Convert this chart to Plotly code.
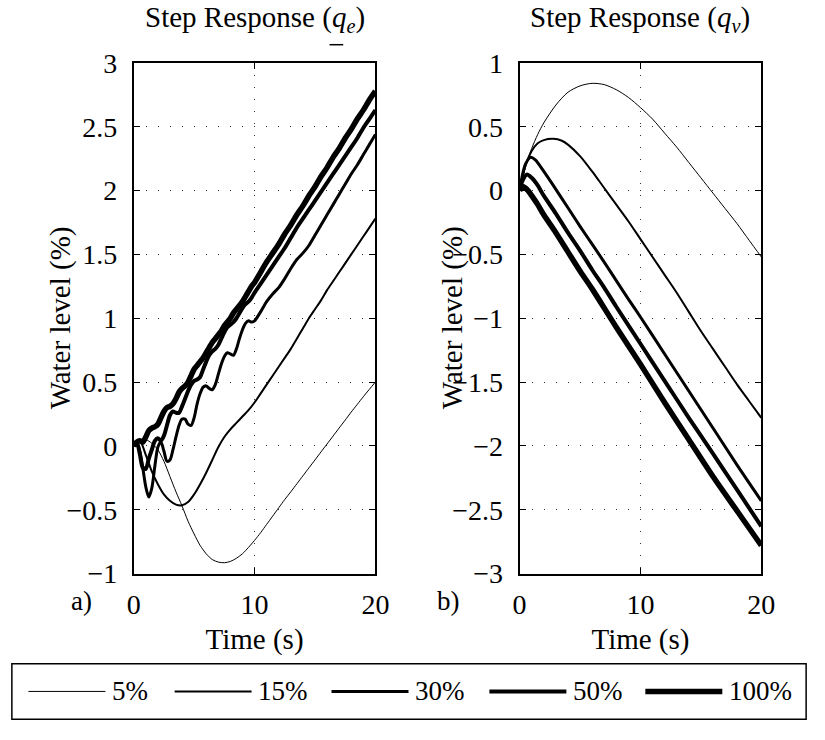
import plotly.graph_objects as go

# ---------------------------------------------------------------------------
# Data: step responses of the water level for five load levels
# ---------------------------------------------------------------------------
loads = ["5%", "15%", "30%", "50%", "100%"]
line_widths = [1.0, 2.0, 3.0, 4.0, 5.5]

# fine grid (0 .. 10 s every 0.25 s, then every 0.5 s up to 20 s)
t_fine = [round(0.25 * i, 2) for i in range(41)] + [10.5 + 0.5 * i for i in range(20)]
# half-second grid for the smoother responses
t_half = [0.5 * i for i in range(41)]

# (a) response to feedwater flow q_e
qe_5 = [0, 0.04, 0.05, 0.02, -0.03, -0.12, -0.24, -0.36, -0.47, -0.59, -0.69, -0.78,
        -0.845, -0.89, -0.91, -0.915, -0.905, -0.88, -0.845, -0.795, -0.74, -0.68,
        -0.615, -0.55, -0.485, -0.42, -0.36, -0.297, -0.235, -0.172, -0.11, -0.047,
        0.015, 0.077, 0.14, 0.202, 0.265, 0.325, 0.385, 0.443, 0.50]

qe_15 = [0, 0.04, -0.07, -0.20, -0.30, -0.38, -0.43, -0.46, -0.465, -0.44,
         -0.38, -0.30, -0.21, -0.11, -0.01, 0.07, 0.13, 0.18, 0.23, 0.28, 0.34, 0.41,
         0.48, 0.55, 0.62, 0.69, 0.76, 0.84, 0.92, 1.00, 1.07, 1.14, 1.22, 1.29, 1.36,
         1.43, 1.50, 1.57, 1.64, 1.71, 1.78]

qe_30 = [0, 0.02, -0.04, -0.17, -0.32, -0.40, -0.33, -0.16, -0.01, 0.03, -0.04, -0.12,
         -0.11, -0.03, 0.07, 0.16, 0.21, 0.21, 0.17, 0.16, 0.22, 0.33, 0.41, 0.46, 0.47,
         0.45, 0.44, 0.48, 0.56, 0.64, 0.70, 0.73, 0.72, 0.71, 0.76, 0.84, 0.91, 0.96,
         0.98, 0.97, 0.98,
         1.05, 1.13, 1.19, 1.24, 1.31, 1.39, 1.46, 1.51, 1.57, 1.65, 1.73, 1.81, 1.89,
         1.97, 2.05, 2.13, 2.20, 2.28, 2.36, 2.44]

qe_50 = [0, 0.03, -0.06, -0.17, -0.18, -0.10, -0.03, 0.04, 0.06, 0.04, 0.08, 0.16,
         0.24, 0.27, 0.26, 0.26, 0.31, 0.37, 0.43, 0.48, 0.51, 0.52, 0.54, 0.60, 0.66,
         0.71, 0.74, 0.76, 0.79, 0.84, 0.89, 0.93, 0.95, 0.97, 1.00, 1.04, 1.08, 1.11,
         1.13, 1.16, 1.20,
         1.27, 1.34, 1.41, 1.48, 1.55, 1.63, 1.71, 1.78, 1.85, 1.92, 1.99, 2.06, 2.13,
         2.20, 2.27, 2.34, 2.41, 2.49, 2.56, 2.63]

qe_100 = [0, 0.03, 0.04, 0.03, 0.07, 0.12, 0.14, 0.15, 0.17, 0.22, 0.27, 0.30, 0.31,
          0.33, 0.37, 0.42, 0.45, 0.47, 0.50, 0.55, 0.60, 0.63, 0.66, 0.69, 0.73, 0.77,
          0.81, 0.84, 0.87, 0.90, 0.94, 0.97, 1.00, 1.04, 1.07, 1.10, 1.13, 1.17, 1.21,
          1.25, 1.28,
          1.36, 1.44, 1.51, 1.58, 1.66, 1.73, 1.81, 1.88, 1.96, 2.03, 2.11, 2.18, 2.26,
          2.33, 2.41, 2.48, 2.56, 2.63, 2.71, 2.78]

# (b) response to steam flow q_v
qv_t_5 = [0, 0.5, 1.0, 1.5, 2.0, 3, 4, 5, 6, 7, 8, 9, 10, 11, 12, 13, 14, 15, 16, 17,
          18, 19, 20]
qv_5 = [0, 0.19, 0.33, 0.44, 0.53, 0.67, 0.77, 0.82, 0.84, 0.83, 0.79, 0.73, 0.65,
        0.56, 0.45, 0.34, 0.22, 0.10, -0.02, -0.14, -0.26, -0.39, -0.52]

qv_t_15 = [0, 0.5, 1.0, 1.5, 2.0, 2.78, 3.5, 4, 5, 6, 7, 8, 9, 10, 11, 12, 13, 14, 15,
           16, 17, 18, 19, 20]
qv_15 = [0, 0.20, 0.31, 0.37, 0.395, 0.405, 0.39, 0.36, 0.27, 0.15, 0.02, -0.11, -0.24,
         -0.38, -0.52, -0.66, -0.80, -0.95, -1.10, -1.24, -1.38, -1.52, -1.65, -1.78]

qv_t_30 = [0, 0.25, 0.5, 0.9, 1.3, 2, 3, 4, 5, 6, 7, 8, 9, 10, 12, 14, 16, 18, 20]
qv_30 = [0, 0.13, 0.21, 0.26, 0.24, 0.15, 0.01, -0.135, -0.28, -0.42, -0.56, -0.705,
         -0.85, -0.99, -1.28, -1.57, -1.86, -2.15, -2.43]

qv_t_50 = [0, 0.25, 0.6, 1.0, 1.5, 2, 3, 4, 5, 6, 7, 8, 10, 12, 14, 16, 18, 20]
qv_50 = [0, 0.08, 0.125, 0.10, 0.04, -0.04, -0.18, -0.33, -0.47, -0.62, -0.76, -0.91,
         -1.20, -1.49, -1.78, -2.06, -2.345, -2.63]

qv_t_100 = [0, 0.3, 0.7, 1.0, 1.5, 2, 3, 4, 5, 6, 8, 10, 12, 14, 16, 18, 20]
qv_100 = [0, 0.03, 0.0, -0.04, -0.11, -0.19, -0.33, -0.48, -0.63, -0.77, -1.07, -1.36,
          -1.66, -1.95, -2.24, -2.51, -2.78]

# axis ticks
x_ticks = [0, 10, 20]
qe_ticks = [-1, -0.5, 0, 0.5, 1, 1.5, 2, 2.5, 3]
qv_ticks = [-3, -2.5, -2, -1.5, -1, -0.5, 0, 0.5, 1]

# ---------------------------------------------------------------------------
FONT = "Liberation Serif, serif"
W, H = 825, 740


def fmt(v):
    s = ("%g" % abs(v))
    return ("\u2212" + s) if v < 0 else s


left_series = [(t_half, qe_5), (t_half, qe_15), (t_fine, qe_30), (t_fine, qe_50),
               (t_fine, qe_100)]
right_series = [(qv_t_5, qv_5), (qv_t_15, qv_15), (qv_t_30, qv_30), (qv_t_50, qv_50),
                (qv_t_100, qv_100)]

fig = go.Figure()
for name, lw, (tx, ty) in zip(loads, line_widths, left_series):
    fig.add_trace(go.Scatter(x=tx, y=ty, mode="lines", name=name, showlegend=False,
                             line=dict(color="black", width=lw, shape="spline",
                                       smoothing=0.8),
                             xaxis="x", yaxis="y"))
for name, lw, (tx, ty) in zip(loads, line_widths, right_series):
    fig.add_trace(go.Scatter(x=tx, y=ty, mode="lines", name=name, showlegend=False,
                             line=dict(color="black", width=lw, shape="spline",
                                       smoothing=0.8),
                             xaxis="x2", yaxis="y2"))


def px(v):
    return v / W


def py(v):
    return 1 - v / H


axis_common = dict(
    showline=True, linecolor="black", linewidth=1.8, mirror="ticks",
    ticks="inside", ticklen=6, tickwidth=1, tickcolor="black",
    showgrid=True, gridcolor="#333333", gridwidth=1, griddash="1px,11px",
    zeroline=False, tickfont=dict(family=FONT, size=28, color="black"),
)

label_font = dict(family=FONT, size=29, color="black")

fig.update_layout(
    width=W, height=H,
    margin=dict(l=0, r=0, t=0, b=0),
    paper_bgcolor="white", plot_bgcolor="white",
    font=dict(family=FONT, color="black"),
    xaxis=dict(axis_common, domain=[px(130), px(378)], range=[0, 20],
               tickvals=x_ticks, ticktext=[fmt(v) for v in x_ticks], anchor="y",
               ticklabelstandoff=5,
               title=dict(text="Time (s)", font=label_font, standoff=10)),
    yaxis=dict(axis_common, domain=[py(583), py(50)], range=[-1, 3],
               tickvals=qe_ticks, ticktext=[fmt(v) for v in qe_ticks], anchor="x",
               ticklabelstandoff=9),
    xaxis2=dict(axis_common, domain=[px(526), px(774)], range=[0, 20],
                tickvals=x_ticks, ticktext=[fmt(v) for v in x_ticks], anchor="y2",
                ticklabelstandoff=5,
                title=dict(text="Time (s)", font=label_font, standoff=10)),
    yaxis2=dict(axis_common, domain=[py(583), py(50)], range=[-3, 1],
                tickvals=qv_ticks, ticktext=[fmt(v) for v in qv_ticks], anchor="x2",
                ticklabelstandoff=9),
)

# subplot titles, y labels and panel labels
annotations = [
    dict(text="Step Response (<i>q</i><sub><i>e</i></sub>)",
         xref="x domain", yref="paper", x=0.5, y=py(4), showarrow=False,
         font=label_font, xanchor="center", yanchor="middle"),
    dict(text="Step Response (<i>q</i><sub><i>v</i></sub>)",
         xref="x2 domain", yref="paper", x=0.5, y=py(4), showarrow=False,
         font=label_font, xanchor="center", yanchor="middle"),
    dict(text="Water level (%)", xref="paper", yref="paper", x=px(55), y=py(316),
         textangle=-90, showarrow=False, font=label_font,
         xanchor="center", yanchor="middle"),
    dict(text="Water level (%)", xref="paper", yref="paper", x=px(457), y=py(316),
         textangle=-90, showarrow=False, font=label_font,
         xanchor="center", yanchor="middle"),
    dict(text="a)", xref="paper", yref="paper", x=px(76), y=py(612), showarrow=False,
         font=dict(family=FONT, size=27), xanchor="center", yanchor="middle"),
    dict(text="b)", xref="paper", yref="paper", x=px(453), y=py(612), showarrow=False,
         font=dict(family=FONT, size=27), xanchor="center", yanchor="middle"),
]

# underline of the q in the left title
shapes = [dict(type="line", xref="paper", yref="paper", x0=px(331), x1=px(345),
               y0=py(31), y1=py(31), line=dict(color="black", width=1.5))]

# legend box drawn below both panels
shapes.append(dict(type="rect", xref="paper", yref="paper", x0=px(5), x1=px(820),
                   y0=py(735), y1=py(677), line=dict(color="black", width=1.5)))
legend_x = [22, 172, 333, 495, 655]
for name, lw, x0 in zip(loads, line_widths, legend_x):
    shapes.append(dict(type="line", xref="paper", yref="paper", x0=px(x0),
                       x1=px(x0 + 79), y0=py(706), y1=py(706),
                       line=dict(color="black", width=lw)))
    annotations.append(dict(text=name, xref="paper", yref="paper", x=px(x0 + 84),
                            y=py(706), showarrow=False, xanchor="left",
                            yanchor="middle", font=dict(family=FONT, size=27)))

fig.update_layout(annotations=annotations, shapes=shapes)

fig.write_html("out.html")
